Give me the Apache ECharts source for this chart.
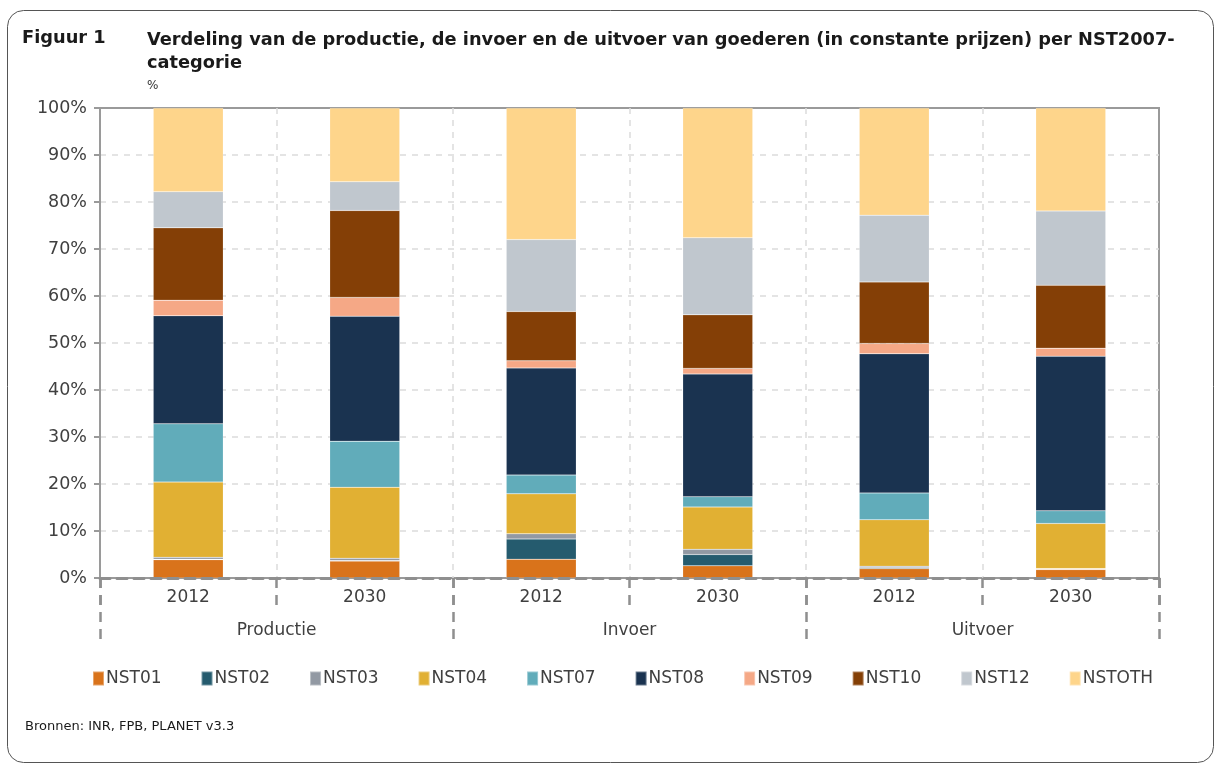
<!DOCTYPE html>
<html>
<head>
<meta charset="utf-8">
<script src="https://cdn.jsdelivr.net/npm/echarts@6/dist/echarts.min.js"></script>
<style>
  html, body { margin: 0; padding: 0; background: #fff; }
  #chart { width: 1215px; height: 765px; }
</style>
</head>
<body>
<div id="chart"></div>
<script>
// Share of each NST2007 category (%) in production, imports and exports
const years = ['2012', '2030', '2012', '2030', '2012', '2030'];
const groups = ['Productie', 'Invoer', 'Uitvoer'];
const yTicks = [0, 10, 20, 30, 40, 50, 60, 70, 80, 90, 100];

const NST01  = [3.9, 3.6, 4.0, 2.6, 2.0, 1.8];
const NST02  = [0.1, 0.1, 4.3, 2.4, 0.2, 0.1];
const NST03  = [0.4, 0.5, 1.1, 1.1, 0.3, 0.1];
const NST04  = [16.0, 15.1, 8.5, 9.0, 9.9, 9.6];
const NST07  = [12.4, 9.8, 4.0, 2.2, 5.7, 2.7];
const NST08  = [23.0, 26.6, 22.8, 26.1, 29.6, 32.9];
const NST09  = [3.3, 4.0, 1.5, 1.2, 2.2, 1.7];
const NST10  = [15.4, 18.5, 10.5, 11.4, 13.1, 13.4];
const NST12  = [7.7, 6.1, 15.3, 16.4, 14.2, 15.8];
const NSTOTH = [17.8, 15.7, 28.0, 27.6, 22.8, 21.9];

const seriesDefs = [
  ['NST01', NST01, '#D9731B'],
  ['NST02', NST02, '#255B6E'],
  ['NST03', NST03, '#9299A3'],
  ['NST04', NST04, '#E1B033'],
  ['NST07', NST07, '#61ACBA'],
  ['NST08', NST08, '#1A3350'],
  ['NST09', NST09, '#F5A886'],
  ['NST10', NST10, '#843F06'],
  ['NST12', NST12, '#C0C7CE'],
  ['NSTOTH', NSTOTH, '#FED58B']
];

const FONT = 'DejaVu Sans';
const chart = echarts.init(document.getElementById('chart'), null, { renderer: 'canvas' });

chart.setOption({
  animation: false,
  backgroundColor: '#fff',
  textStyle: { fontFamily: FONT },
  graphic: [
    {
      type: 'rect', left: 5, top: 8, z: 0,
      shape: { width: 1206, height: 752, r: 16 },
      style: { fill: 'none', stroke: '#555', lineWidth: 1 }
    },
    {
      type: 'text', left: 22, top: 29,
      style: { text: 'Figuur 1', font: 'bold 17.8px "DejaVu Sans"', fill: '#1a1a1a' }
    },
    {
      type: 'text', left: 147, top: 29,
      style: {
        text: 'Verdeling van de productie, de invoer en de uitvoer van goederen (in constante prijzen) per NST2007-\ncategorie',
        font: 'bold 17.8px "DejaVu Sans"', fill: '#1a1a1a', lineHeight: 23
      }
    },
    {
      type: 'text', left: 147, top: 80,
      style: { text: '%', font: '12px "DejaVu Sans"', fill: '#333' }
    },
    {
      type: 'text', left: 25, top: 720,
      style: { text: 'Bronnen: INR, FPB, PLANET v3.3', font: '13px "DejaVu Sans"', fill: '#1a1a1a' }
    }
  ],
  legend: {
    left: 92, top: 670, padding: 0,
    itemWidth: 11, itemHeight: 14, itemGap: 39,
    icon: 'rect',
    textStyle: { fontFamily: FONT, fontSize: 17, color: '#404040', padding: [0, 0, 0, -3] },
    data: seriesDefs.map(d => d[0])
  },
  grid: {
    left: 100, right: 56, top: 108, bottom: 187,
    show: true, borderColor: '#9a9a9a', borderWidth: 2,
    containLabel: false
  },
  xAxis: [
    {
      type: 'category', data: years, position: 'bottom', z: 5,
      axisLine: { show: true, lineStyle: { color: '#8f8f8f', width: 3, type: [10, 7] } },
      axisTick: { show: true, length: 30, lineStyle: { color: '#8f8f8f', width: 2.5, type: [10, 7] } },
      axisLabel: { fontFamily: FONT, fontSize: 17, color: '#404040', margin: 11 },
      splitLine: { show: true, showMinLine: false, showMaxLine: false, lineStyle: { color: '#dcdcdc', width: 1.5, type: [6, 6] } }
    },
    {
      type: 'category', data: groups, position: 'bottom', z: 5,
      axisLine: { show: false },
      axisTick: { show: true, length: 62, lineStyle: { color: '#8f8f8f', width: 2.5, type: [10, 7] } },
      axisLabel: { fontFamily: FONT, fontSize: 17, color: '#404040', margin: 44 },
      splitLine: { show: false }
    }
  ],
  yAxis: {
    type: 'value', min: 0, max: 100, interval: 10,
    axisLine: { show: true, lineStyle: { color: '#9a9a9a', width: 2 } },
    axisTick: { show: true, length: 6, lineStyle: { color: '#9a9a9a', width: 2 } },
    axisLabel: {
      fontFamily: FONT, fontSize: 17.5, color: '#404040', margin: 13,
      formatter: v => (yTicks.includes(v) ? v + '%' : '')
    },
    splitLine: { show: true, showMinLine: false, showMaxLine: false, lineStyle: { color: '#dcdcdc', width: 1.5, type: [6, 6] } }
  },
  series: seriesDefs.map(([name, values, color]) => ({
    name, type: 'bar', stack: 'total', xAxisIndex: 0,
    barWidth: 70,
    data: values,
    itemStyle: { color, borderColor: 'rgba(255,255,255,0.35)', borderWidth: 0.5 }
  }))
});
</script>
</body>
</html>
